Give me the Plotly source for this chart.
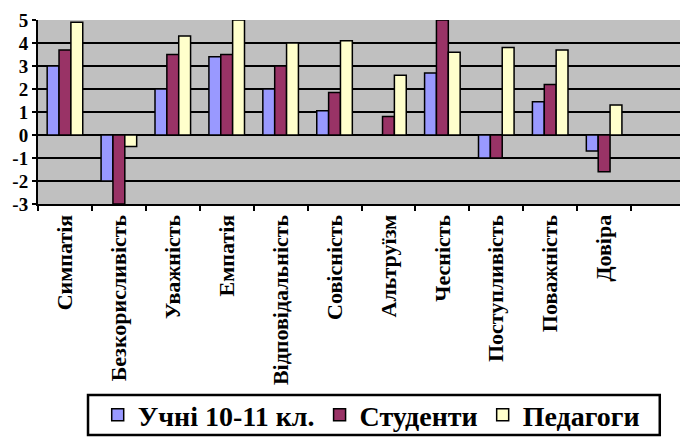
import plotly.graph_objects as go

categories = ["Симпатія", "Безкорисливість", "Уважність", "Емпатія", "Відповідальність",
              "Совісність", "Альтруїзм", "Чесність", "Поступливість", "Поважність", "Довіра", " "]
pupils = [3.0, -2.0, 2.0, 3.4, 2.0, 1.05, 0.0, 2.7, -1.0, 1.45, -0.7, None]
students = [3.7, -3.0, 3.5, 3.5, 3.0, 1.85, 0.8, 5.0, -1.0, 2.2, -1.6, None]
teachers = [4.9, -0.5, 4.3, 5.0, 4.0, 4.1, 2.6, 3.6, 3.8, 3.7, 1.3, None]
series_names = ["Учні 10-11 кл.", "Студенти", "Педагоги"]
colors = ["#9999FF", "#993366", "#FFFFCC"]
y_ticks = [-3, -2, -1, 0, 1, 2, 3, 4, 5]
y_tick_labels = ["-3", "-2", "-1", "0", "1", "2", "3", "4", "5"]

font = "Liberation Serif"
fig = go.Figure()
for name, vals, c in zip(series_names, [pupils, students, teachers], colors):
    fig.add_trace(go.Bar(x=categories, y=vals, name=name,
                         marker=dict(color=c, line=dict(color="black", width=1.5))))

fig.update_layout(
    width=680, height=431,
    margin=dict(l=30, r=3, t=12, b=235, autoexpand=False),
    paper_bgcolor="white", plot_bgcolor="#C0C0C0",
    barmode="group", bargap=0.34, bargroupgap=0.0,
    font=dict(family=font, color="black", weight="bold"),
    legend=dict(orientation="h", x=0.515, xanchor="center", y=-1.147, yanchor="middle",
                borderwidth=0, bgcolor="rgba(0,0,0,0)",
                font=dict(family=font, size=28, color="black", weight="bold"),
                itemwidth=30, traceorder="normal"),
    showlegend=True,
    shapes=[dict(type="rect", xref="paper", yref="paper", x0=0.0773, x1=0.961,
                 y0=-1.038, y1=-1.255, line=dict(color="black", width=2.5),
                 fillcolor="rgba(0,0,0,0)", layer="below")],
)
fig.update_xaxes(type="category", categoryorder="array", categoryarray=categories,
                 range=[-0.5, 11.5], tickangle=-90, tickson="boundaries", ticks="outside",
                 ticklen=5, tickwidth=2, tickcolor="black", automargin=False,
                 tickfont=dict(family=font, size=22, color="black", weight="bold"),
                 showline=True, linecolor="black", linewidth=2, showgrid=False)
fig.update_yaxes(range=[-3, 5], tickmode="array", tickvals=y_ticks, ticktext=y_tick_labels,
                 showgrid=True, gridcolor="black", gridwidth=2,
                 zeroline=True, zerolinecolor="black", zerolinewidth=2, automargin=False,
                 ticks="outside", ticklen=4, tickwidth=2, tickcolor="black",
                 tickfont=dict(family=font, size=19, color="black", weight="bold"),
                 showline=True, linecolor="black", linewidth=2)
fig.write_html("out.html")
